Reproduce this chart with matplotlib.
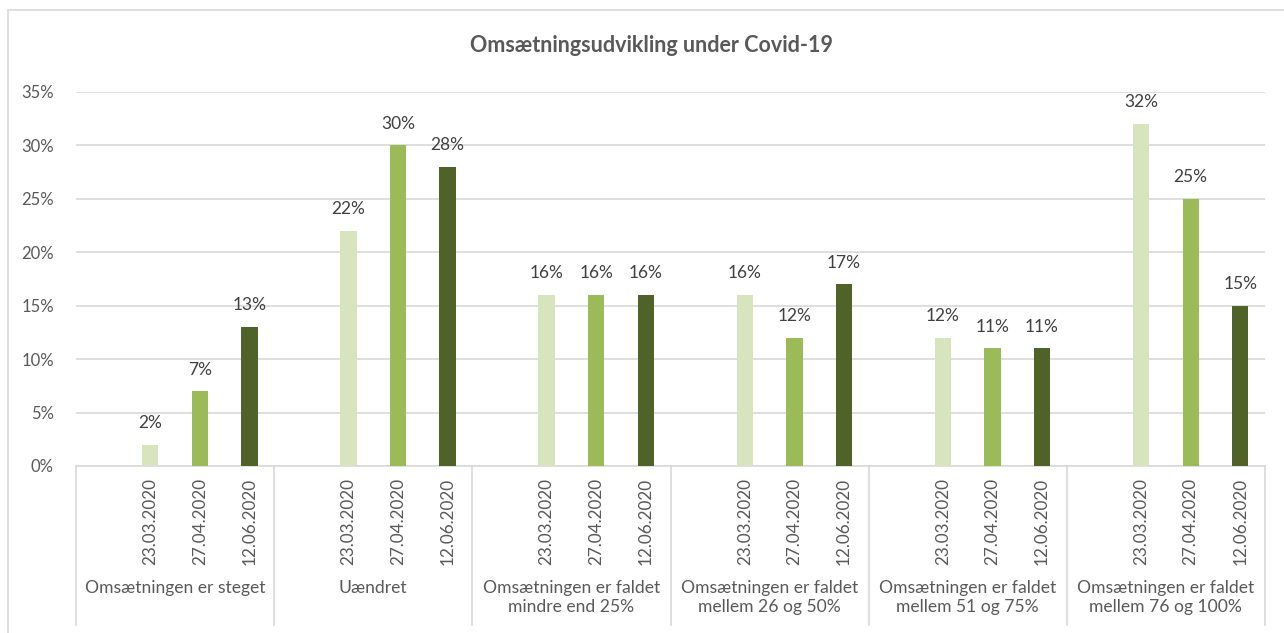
import matplotlib
matplotlib.use("Agg")
import matplotlib.pyplot as plt
from matplotlib.patches import Rectangle
import matplotlib.transforms as mtransforms

# ---- data ----
groups = ["Omsætningen er steget", "Uændret",
          "Omsætningen er faldet\nmindre end 25%",
          "Omsætningen er faldet\nmellem 26 og 50%",
          "Omsætningen er faldet\nmellem 51 og 75%",
          "Omsætningen er faldet\nmellem 76 og 100%"]
dates = ["23.03.2020", "27.04.2020", "12.06.2020"]
v_2303 = [2, 22, 16, 16, 12, 32]
v_2704 = [7, 30, 16, 12, 11, 25]
v_1206 = [13, 28, 16, 17, 11, 15]
series = [v_2303, v_2704, v_1206]
colors = ["#d7e4bd", "#9bbb59", "#4f6228"]
title = "Omsætningsudvikling under Covid-19"
yticks = [0, 5, 10, 15, 20, 25, 30, 35]

plt.rcParams['font.family'] = ['Lato', 'DejaVu Sans']
W, H = 1284, 633
fig = plt.figure(figsize=(W / 100, H / 100), dpi=100)

# outer chart border
fig.patches.append(Rectangle((8 / W, -0.1), 1.2, 1 - 10 / H + 0.1, transform=fig.transFigure,
                             fill=False, edgecolor="#d9d9d9", linewidth=1.2))

left, right = 76 / W, 1265 / W
bottom, top = 1 - 466 / H, 1 - 92 / H
ax = fig.add_axes([left, bottom, right - left, top - bottom])

slots_per_group = 4
ng = len(groups)
bar_w = 0.33
for s, (vals, col) in enumerate(zip(series, colors)):
    xs = [g * slots_per_group + 1 + s for g in range(ng)]
    ax.bar(xs, vals, width=bar_w, color=col, zorder=3)
    for x, v in zip(xs, vals):
        ax.annotate(f"{v}%", (x, v), xytext=(0, 12), textcoords="offset points",
                    ha="center", va="baseline", fontsize=12.5, color="#404040")

ax.set_xlim(-0.5, ng * slots_per_group - 0.5)
ax.set_ylim(0, 35)
ax.set_yticks(yticks)
ax.set_yticklabels([f"{t}%" for t in yticks], fontsize=12, color="#595959")
ax.yaxis.grid(True, color="#d9d9d9", linewidth=1.2, zorder=0)
ax.tick_params(axis="y", length=0, pad=16)
ax.set_xticks([])
for sp in ["top", "right", "left"]:
    ax.spines[sp].set_visible(False)
ax.spines["bottom"].set_color("#d9d9d9")
ax.spines["bottom"].set_linewidth(1.2)

trans = mtransforms.blended_transform_factory(ax.transData, ax.transAxes)
px = 1 / (466 - 92)  # axes fraction per pixel
# separators
for g in range(ng + 1):
    x = g * slots_per_group - 0.5
    ax.plot([x, x], [0, -(625 - 466) * px], transform=trans, color="#d9d9d9",
            linewidth=1.2, clip_on=False)
# date labels
for g in range(ng):
    for s, d in enumerate(dates):
        x = g * slots_per_group + 1 + s
        ax.text(x, -(478 - 466) * px, d, transform=trans, rotation=90, ha="center",
                va="top", fontsize=12.3, color="#595959")
    ax.text(g * slots_per_group + 1.5, -(580 - 466) * px, groups[g], transform=trans,
            ha="center", va="top", fontsize=12.6, color="#595959", linespacing=1.2)

fig.text(651 / W, 1 - 46 / H, title, ha="center", va="center", fontsize=15.5,
         fontweight="bold", color="#595959")

fig.savefig("out.png", dpi=100)
